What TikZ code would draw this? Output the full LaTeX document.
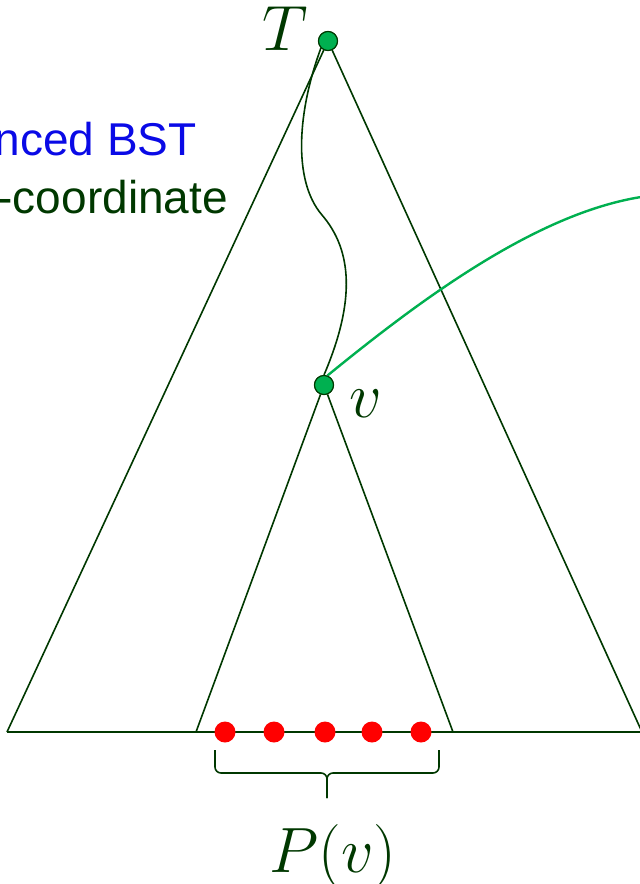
\RequirePackage{fix-cm}
\documentclass[tikz,border=0pt]{standalone}
\usepackage{fontspec}
\setsansfont{Liberation Sans}
\definecolor{treegreen}{RGB}{0,56,0}
\definecolor{nodegreen}{RGB}{0,176,80}
\definecolor{bstblue}{RGB}{10,10,230}
\tikzset{
  tree/.style={draw=treegreen, line width=1.6pt},
  knot/.style={circle, fill=nodegreen, draw=treegreen, line width=1.1pt, inner sep=0pt, minimum size=19pt},
  pt/.style={circle, fill=red, inner sep=0pt, minimum size=21pt},
  mathlbl/.style={text=treegreen, font=\fontsize{64}{66}\selectfont, inner sep=0pt, anchor=base},
  side/.style={font=\sffamily\fontsize{46}{48}\selectfont, inner sep=0pt, anchor=base east},
}
\begin{document}
\begin{tikzpicture}[x=1pt,y=-1pt]
\useasboundingbox (0,0) rectangle (640,884);
\clip (0,0) rectangle (640,884);

\node[side, text=bstblue] (bst) at (197,155) {nced BST};
\node[side, text=treegreen] (coord) at (228,213) {-coordinate};

\coordinate (L) at (7,732);
\coordinate (R) at (642,732);
\coordinate (vl) at (196,732);
\coordinate (vr) at (453,732);

\node[knot] (T) at (328,41) {};
\node[knot] (v) at (324,385) {};
\node[mathlbl] (Tlbl) at (285,50) {$T$};
\node[mathlbl] (vlbl) at (366,417) {$v$};

\draw[tree] (T) -- (L);
\draw[tree] (T) -- (R);
\draw[tree] (L) -- (R);
\draw[tree] (v) -- (vl);
\draw[tree] (v) -- (vr);

\draw[treegreen, line width=1.6pt] (T.south west) .. controls (298,110) and (292,180) .. (322,215)
  .. controls (352,250) and (356,300) .. (v.north);
\draw[nodegreen, line width=2.4pt] (v.70) .. controls (420,300) and (540,210) .. (648,196);
\node[knot] at (T) {};
\node[knot] at (v) {};

\foreach \x [count=\i] in {225,274,325,372,421}
  \node[pt] (p\i) at (\x,732) {};

\draw[tree, rounded corners=6pt] (215,750) -- (215,773) -- (327,773) -- (327,798);
\draw[tree, rounded corners=6pt] (439,750) -- (439,773) -- (327,773) -- (327,798);
\node[mathlbl] (Plbl) at (333,872) {$P(v)$};
\end{tikzpicture}
\end{document}
